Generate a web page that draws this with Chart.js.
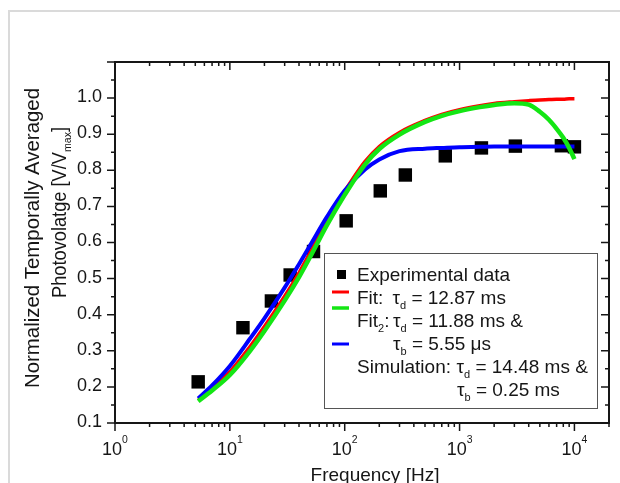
<!DOCTYPE html>
<html>
<head>
<meta charset="utf-8">
<script src="https://cdn.jsdelivr.net/npm/chart.js@4.4.0/dist/chart.umd.min.js"></script>
<style>
  html, body { margin: 0; padding: 0; background: #fff; }
  #wrap { width: 620px; height: 483px; }
</style>
</head>
<body>
<div id="wrap"><canvas id="pvChart" width="620" height="483"></canvas></div>
<script>
// chopper frequencies [Hz] and measured normalized photovoltage
const expFreq = [5.3, 13, 23, 33.5, 53.5, 103, 204, 337, 751, 1550, 3060, 7700, 10000];
const expVolt = [0.214, 0.364, 0.438, 0.510, 0.575, 0.660, 0.743, 0.787, 0.840, 0.862, 0.867, 0.868, 0.865];

// frequencies where the fit / simulation curves are sampled
const curveFreq = [5.3, 7, 10, 15, 20, 30, 40, 50, 70, 100, 150, 200, 300, 500, 700,
  1000, 1500, 2000, 3000, 4000, 5000, 6000, 7000, 8000, 9000, 10000];
const fitVolt = [0.163, 0.196, 0.242, 0.312, 0.367, 0.451, 0.516, 0.572, 0.660, 0.742, 0.824, 0.866, 0.905,
  0.938, 0.955, 0.968, 0.979, 0.985, 0.990, 0.993, 0.995, 0.996, 0.997, 0.997, 0.998, 0.998];
const fit2Volt = [0.160, 0.190, 0.233, 0.300, 0.355, 0.439, 0.504, 0.560, 0.648, 0.732, 0.816, 0.859, 0.899,
  0.934, 0.951, 0.964, 0.975, 0.981, 0.986, 0.982, 0.962, 0.940, 0.915, 0.890, 0.862, 0.831];
const simVolt = [0.168, 0.204, 0.258, 0.334, 0.390, 0.475, 0.540, 0.592, 0.671, 0.744, 0.802, 0.830, 0.853,
  0.860, 0.862, 0.864, 0.865, 0.866, 0.866, 0.866, 0.866, 0.866, 0.866, 0.866, 0.866, 0.866];

// axis ticks
const yMajor = [0.1, 0.2, 0.3, 0.4, 0.5, 0.6, 0.7, 0.8, 0.9, 1.0];
const xDecades = [0, 1, 2, 3, 4];

const FONT = '"Liberation Sans", Arial, sans-serif';
const INK = '#161616';
const SUB = 0.58;

const toPoints = (xs, ys) => xs.map((x, i) => ({ x: x, y: ys[i] }));

// text made of runs: [text, kind] where kind is '', 'sub' or 'sup'
function runsWidth(ctx, runs, size) {
  let w = 0;
  runs.forEach(([t, kind]) => {
    ctx.font = (kind ? size * SUB : size) + 'px ' + FONT;
    w += ctx.measureText(t).width;
  });
  return w;
}
function drawRuns(ctx, x, y, runs, size) {
  let cx = x;
  runs.forEach(([t, kind]) => {
    let fs = size, dy = 0;
    if (kind === 'sub') { fs = size * SUB; dy = size * 0.27; }
    if (kind === 'sup') { fs = size * SUB; dy = -size * 0.64; }
    ctx.font = fs + 'px ' + FONT;
    ctx.fillText(t, cx, y + dy);
    cx += ctx.measureText(t).width;
  });
  return cx;
}
// vertical title running upwards from (x, y), stretched to a given length
function drawUpRuns(ctx, x, y, runs, size, length) {
  ctx.save();
  ctx.translate(x, y);
  ctx.rotate(-Math.PI / 2);
  ctx.scale(length / runsWidth(ctx, runs, size), 1);
  drawRuns(ctx, 0, 0, runs, size);
  ctx.restore();
}

const framePlugin = {
  id: 'originFrame',
  beforeDraw(chart) {
    const ctx = chart.ctx;
    ctx.save();
    ctx.fillStyle = '#fff';
    ctx.fillRect(0, 0, chart.width, chart.height);
    // light card outline
    ctx.strokeStyle = '#dadada';
    ctx.lineWidth = 2;
    ctx.beginPath();
    ctx.moveTo(9, chart.height);
    ctx.lineTo(9, 11);
    ctx.lineTo(chart.width, 11);
    ctx.stroke();
    ctx.restore();
  },
  afterDatasetsDraw(chart) {
    const ctx = chart.ctx;
    const a = chart.chartArea;
    const xs = chart.scales.x, ys = chart.scales.y;
    ctx.save();

    // legend box
    const lg = { l: 324, t: 253, r: 597, b: 408 };
    ctx.fillStyle = '#fff';
    ctx.fillRect(lg.l, lg.t, lg.r - lg.l, lg.b - lg.t);
    ctx.strokeStyle = '#555';
    ctx.lineWidth = 1;
    ctx.strokeRect(lg.l + 0.5, lg.t + 0.5, lg.r - lg.l, lg.b - lg.t);

    ctx.fillStyle = '#000';
    ctx.fillRect(337, 270, 9, 9);
    const sample = (color, y, w) => {
      ctx.strokeStyle = color;
      ctx.lineWidth = w;
      ctx.beginPath();
      ctx.moveTo(332, y);
      ctx.lineTo(349, y);
      ctx.stroke();
    };
    sample(chart.data.datasets[1].borderColor, 292, 3);
    sample(chart.data.datasets[3].borderColor, 308, 3.5);
    sample(chart.data.datasets[2].borderColor, 344, 3);

    ctx.fillStyle = INK;
    ctx.textAlign = 'left';
    ctx.textBaseline = 'alphabetic';
    const ls = 19;
    drawRuns(ctx, 357, 281, [['Experimental data', '']], ls);
    drawRuns(ctx, 357, 303.5, [['Fit:', '']], ls);
    drawRuns(ctx, 392.5, 303.5, [['τ', ''], ['d', 'sub'], [' = 12.87 ms', '']], ls);
    drawRuns(ctx, 357, 326.5, [['Fit', ''], ['2', 'sub'], [':', '']], ls);
    drawRuns(ctx, 393, 326.5, [['τ', ''], ['d', 'sub'], [' = 11.88 ms &', '']], ls);
    drawRuns(ctx, 393, 349.5, [['τ', ''], ['b', 'sub'], [' = 5.55 μs', '']], ls);
    drawRuns(ctx, 357, 373, [['Simulation:', '']], ls);
    drawRuns(ctx, 456.5, 373, [['τ', ''], ['d', 'sub'], [' = 14.48 ms &', '']], ls);
    drawRuns(ctx, 457, 396, [['τ', ''], ['b', 'sub'], [' = 0.25 ms', '']], ls);

    // axis frame
    ctx.strokeStyle = INK;
    ctx.lineWidth = 2;
    ctx.strokeRect(a.left, a.top, a.right - a.left, a.bottom - a.top);

    // y ticks: outward on the left, inward on the right
    ctx.lineWidth = 1.5;
    ctx.beginPath();
    for (let i = 0; i <= 20; i++) {
      const v = Math.round((0.1 + i * 0.05) * 100) / 100;
      const py = ys.getPixelForValue(v);
      const len = i % 2 === 0 ? 8 : 4;
      ctx.moveTo(a.left - len, py); ctx.lineTo(a.left, py);
      ctx.moveTo(a.right, py); ctx.lineTo(a.right - len, py);
    }
    // x ticks: outward at the bottom, inward at the top
    xDecades.forEach(d => {
      for (let k = 1; k <= 9; k++) {
        const f = k * Math.pow(10, d);
        if (f > xs.max) break;
        const px = xs.getPixelForValue(f);
        const len = k === 1 ? 8 : 4;
        ctx.moveTo(px, a.bottom); ctx.lineTo(px, a.bottom + len);
        ctx.moveTo(px, a.top); ctx.lineTo(px, a.top + len);
      }
    });
    ctx.stroke();

    // tick labels
    ctx.fillStyle = INK;
    ctx.font = '18px ' + FONT;
    ctx.textAlign = 'right';
    ctx.textBaseline = 'middle';
    yMajor.forEach(v => {
      ctx.fillText(v.toFixed(1), a.left - 13, ys.getPixelForValue(v) - 1);
    });
    ctx.textAlign = 'left';
    ctx.textBaseline = 'alphabetic';
    xDecades.forEach(d => {
      const runs = [['10', ''], [String(d), 'sup']];
      const w = runsWidth(ctx, runs, 18);
      drawRuns(ctx, xs.getPixelForValue(Math.pow(10, d)) - w / 2, 455, runs, 18);
    });

    // axis titles
    ctx.font = '19px ' + FONT;
    ctx.textAlign = 'center';
    ctx.fillText('Frequency [Hz]', 375, 481);

    ctx.textAlign = 'left';
    drawUpRuns(ctx, 39, 388, [['Normalized Temporally Averaged', '']], 19.5, 300);
    drawUpRuns(ctx, 65.5, 298, [['Photovolatge [V/V', ''], ['max', 'sub'], [']', '']], 19.5, 171);

    ctx.restore();
  }
};

const lineSet = (label, ys, color, width, order) => ({
  label: label,
  data: toPoints(curveFreq, ys),
  showLine: true,
  borderColor: color,
  borderWidth: width,
  pointRadius: 0,
  cubicInterpolationMode: 'monotone',
  order: order,
});

new Chart(document.getElementById('pvChart'), {
  type: 'scatter',
  data: {
    datasets: [
      {
        label: 'Experimental data',
        data: toPoints(expFreq, expVolt),
        pointStyle: 'rect',
        pointRadius: 9.5,
        backgroundColor: '#000',
        borderWidth: 0,
        order: 3,
      },
      lineSet('Fit', fitVolt, '#ff0000', 3.5, 2),
      lineSet('Simulation', simVolt, '#0000ff', 4, 1),
      lineSet('Fit2', fit2Volt, '#14e614', 4.5, 0),
    ],
  },
  options: {
    responsive: false,
    animation: false,
    layout: { padding: { left: 115, right: 11, top: 62, bottom: 60 } },
    scales: {
      x: { type: 'logarithmic', min: 1, max: 20000, display: false },
      y: { type: 'linear', min: 0.1, max: 1.1, display: false },
    },
    plugins: {
      legend: { display: false },
      tooltip: { enabled: false },
    },
  },
  plugins: [framePlugin],
});
</script>
</body>
</html>
